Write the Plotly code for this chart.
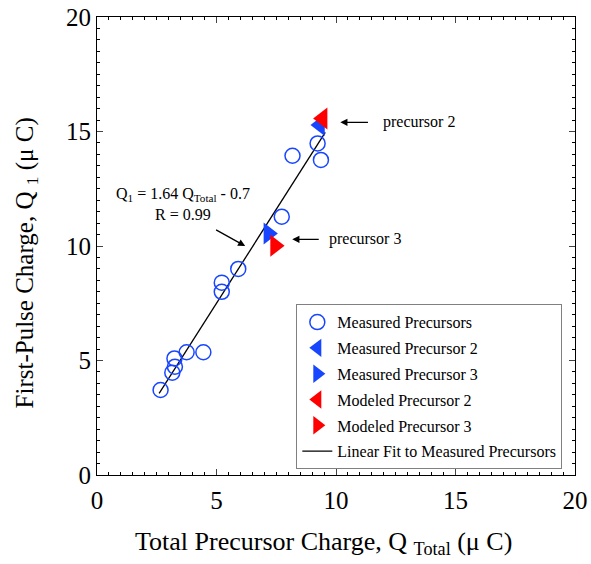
import plotly.graph_objects as go

# Measured precursors (open circles)
meas_x = [2.66, 3.15, 3.26, 3.24, 3.75, 4.45, 5.22, 5.22, 5.91, 7.73, 8.18, 9.23, 9.37]
meas_y = [3.71, 4.47, 4.73, 5.09, 5.36, 5.36, 8.00, 8.40, 9.00, 11.28, 13.94, 14.48, 13.76]

mp2_x, mp2_y = [9.33], [15.28]
mp3_x, mp3_y = [7.17], [10.55]
mod2_x, mod2_y = [9.44], [15.57]
mod3_x, mod3_y = [7.45], [10.01]

fit_slope, fit_icpt = 1.64, -0.7
fit_x = [2.6, 9.55]
fit_y = [fit_slope * v + fit_icpt for v in fit_x]

FONT = "Liberation Serif"
BLUE = "#1846ff"
RED = "#ff0000"

fig = go.Figure()
fig.add_trace(go.Scatter(x=fit_x, y=fit_y, mode="lines", line=dict(color="black", width=1.3),
                         name="Linear Fit to Measured Precursors", legendrank=6, legendgroup="g6"))
fig.add_trace(go.Scatter(x=meas_x, y=meas_y, mode="markers", name="Measured Precursors",
                         marker=dict(symbol="circle-open", size=15, color=BLUE, line=dict(width=1.5)),
                         legendrank=1, legendgroup="g1"))
fig.add_trace(go.Scatter(x=mp2_x, y=mp2_y, mode="markers", name="Measured Precursor 2",
                         marker=dict(symbol="triangle-left", size=19, color=BLUE), legendrank=2,
                         legendgroup="g2"))
fig.add_trace(go.Scatter(x=mp3_x, y=mp3_y, mode="markers", name="Measured Precursor 3",
                         marker=dict(symbol="triangle-right", size=19, color=BLUE), legendrank=3,
                         legendgroup="g3"))
fig.add_trace(go.Scatter(x=mod2_x, y=mod2_y, mode="markers", name="Modeled Precursor 2",
                         marker=dict(symbol="triangle-left", size=19, color=RED), legendrank=4,
                         legendgroup="g4"))
fig.add_trace(go.Scatter(x=mod3_x, y=mod3_y, mode="markers", name="Modeled Precursor 3",
                         marker=dict(symbol="triangle-right", size=19, color=RED), legendrank=5,
                         legendgroup="g5"))
# invisible trace to anchor the mirrored (top/right) axes carrying minor ticks
fig.add_trace(go.Scatter(x=fit_x, y=fit_y, mode="lines", line=dict(width=0), xaxis="x2", yaxis="y2",
                         showlegend=False, hoverinfo="skip", opacity=0))

minor = dict(dtick=0.5, ticks="inside", ticklen=3, tickcolor="black", showgrid=False)
axis_common = dict(range=[0, 20], dtick=5, ticks="inside", ticklen=6, tickwidth=1,
                   showline=True, linecolor="black", linewidth=1.2,
                   showgrid=False, zeroline=False, automargin=False,
                   tickfont=dict(family=FONT, size=25, color="black"), minor=minor)
mirror_common = dict(range=[0, 20], dtick=5, ticks="inside", ticklen=6, showline=True,
                     linecolor="black", linewidth=1.2, showgrid=False, zeroline=False,
                     showticklabels=False, automargin=False, minor=minor)

fig.update_layout(
    xaxis=dict(**axis_common, ticklabelstandoff=3),
    yaxis=dict(**axis_common),
    xaxis2=dict(**mirror_common, overlaying="x", side="top", anchor="y"),
    yaxis2=dict(**mirror_common, overlaying="y", side="right", anchor="x"),
)

# axis titles
fig.add_annotation(xref="paper", yref="paper", x=0.0753, y=-0.148, xanchor="left", yanchor="middle",
                   text="Total Precursor Charge, Q <sub>Total</sub> (\u03bc C)", showarrow=False,
                   font=dict(family=FONT, size=26, color="black"))
fig.add_annotation(xref="paper", yref="paper", x=-0.1485, y=0.462, xanchor="center", yanchor="middle",
                   text="First-Pulse Charge, Q <sub>1</sub> (\u03bc C)", showarrow=False, textangle=-90,
                   font=dict(family=FONT, size=25, color="black"))

ann_font = dict(family=FONT, size=16, color="black")
arrow = dict(showarrow=True, arrowhead=2, arrowsize=1.1, arrowwidth=1.3, arrowcolor="black",
             text="", axref="x", ayref="y")
fig.add_annotation(x=10.18, y=15.40, ax=11.40, ay=15.40, **arrow)
fig.add_annotation(x=11.89, y=15.40, text="precursor 2", showarrow=False, xanchor="left", font=ann_font)
fig.add_annotation(x=8.17, y=10.29, ax=9.34, ay=10.29, **arrow)
fig.add_annotation(x=9.63, y=10.29, text="precursor 3", showarrow=False, xanchor="left", font=ann_font)
fig.add_annotation(x=3.58, y=11.83, text="Q<sub>1</sub> = 1.64 Q<sub>Total</sub> - 0.7<br>R = 0.99",
                   showarrow=False, xanchor="center", yanchor="middle", font=ann_font)
fig.add_annotation(x=6.20, y=10.0, ax=4.92, ay=10.74, **arrow)

fig.update_layout(
    width=591, height=564, margin=dict(l=97, r=16, t=17, b=89),
    plot_bgcolor="white", paper_bgcolor="white",
    showlegend=True,
    legend=dict(x=0.417, y=0.373, xanchor="left", yanchor="top", bgcolor="white",
                bordercolor="#808080", borderwidth=1, font=dict(family=FONT, size=16, color="black"),
                tracegroupgap=2),
)

fig.write_html("out.html")
